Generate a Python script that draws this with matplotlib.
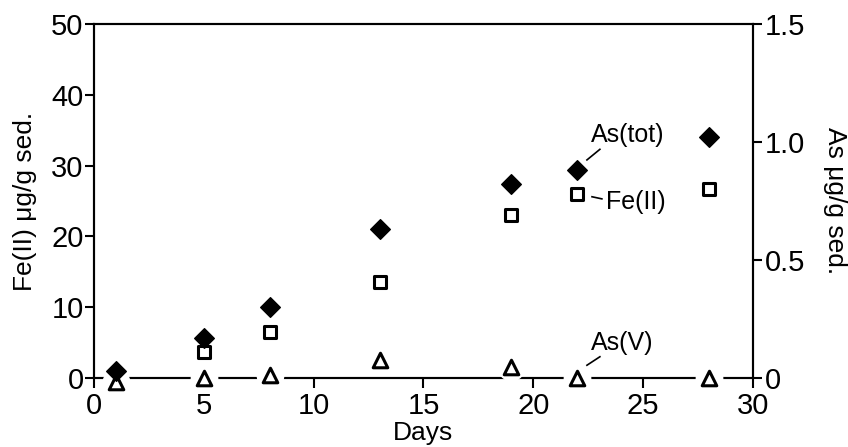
import numpy as np
import matplotlib
matplotlib.use('Agg')
import matplotlib.pyplot as plt

plt.rcParams['font.family'] = ['Liberation Sans', 'DejaVu Sans']

# data
days = [1, 5, 8, 13, 19, 22, 28]
fe2_days = [5, 8, 13, 19, 22, 28]
fe2 = [3.6, 6.5, 13.5, 23.0, 26.0, 26.7]          # ug/g, left axis
as_tot = [0.03, 0.17, 0.30, 0.63, 0.82, 0.88, 1.02]  # ug/g, right axis
as_v = [-0.015, 0.0, 0.013, 0.075, 0.045, 0.0, 0.0]  # ug/g, right axis

fe_ticks = [0, 10, 20, 30, 40, 50]
as_ticks = [0, 0.5, 1.0, 1.5]
as_ticklabels = ['0', '0.5', '1.0', '1.5']
day_ticks = [0, 5, 10, 15, 20, 25, 30]

fig = plt.figure(figsize=(8.48, 4.47), dpi=100)
ax = fig.add_axes([0.1108, 0.1544, 0.888 - 0.1108, 0.9463 - 0.1544])
ax2 = ax.twinx()

fs = 21
lfs = 19
for a in (ax, ax2):
    for s in a.spines.values():
        s.set_linewidth(1.5)
        s.set_zorder(1)
    a.set_xlim(0, 30)
ax.set_ylim(0, 50)
ax2.set_ylim(0, 1.5)

ax.set_xticks(day_ticks)
ax.set_yticks(fe_ticks)
ax2.set_yticks(as_ticks)
ax2.set_yticklabels(as_ticklabels)
ax.tick_params(axis='x', labelsize=fs, width=1.5, length=7, pad=3)
ax.tick_params(axis='y', labelsize=fs, width=1.5, length=6.5, pad=1)
ax2.tick_params(axis='y', labelsize=fs, width=1.5, length=6.5, pad=2)

ax.set_xlabel('Days', fontsize=lfs, labelpad=1)
ax.set_ylabel('Fe(II) μg/g sed.', fontsize=lfs, labelpad=10)
ax2.set_ylabel('As μg/g sed.', fontsize=lfs, rotation=270, labelpad=30)

# white halos so the axis line breaks around the triangles
ax2.scatter(days, as_v, marker='o', s=360, color='white', zorder=3, clip_on=False)

ax.scatter(fe2_days, fe2, marker='s', s=70, facecolor='white', edgecolor='black',
           linewidth=2.2, zorder=4, clip_on=False)
ax2.scatter(days, as_v, marker='^', s=110, facecolor='white', edgecolor='black',
            linewidth=2.2, zorder=5, clip_on=False)
ax2.scatter(days, as_tot, marker='D', s=100, color='black', zorder=6, clip_on=False)

# labels with short leader lines (left-axis data units)
ax.plot([22.44, 23.03], [30.8, 32.3], color='black', lw=1.2)
ax.text(22.6, 34.3, 'As(tot)', fontsize=18, va='center', ha='left')
ax.plot([22.67, 23.12], [25.6, 25.3], color='black', lw=1.2)
ax.text(23.3, 24.9, 'Fe(II)', fontsize=18, va='center', ha='left')
ax.plot([22.44, 23.03], [1.8, 3.0], color='black', lw=1.2)
ax.text(22.6, 4.9, 'As(V)', fontsize=18, va='center', ha='left')

fig.savefig('out.png', dpi=100)
